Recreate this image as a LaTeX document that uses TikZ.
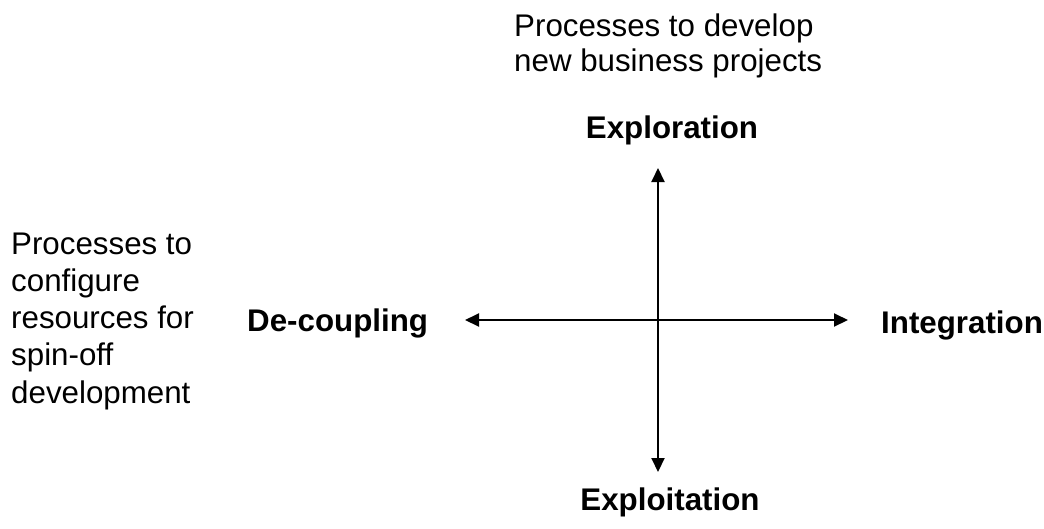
\documentclass[tikz,border=0pt]{standalone}
\usepackage{fontspec}
\setmainfont{Liberation Sans}
\usetikzlibrary{arrows.meta}
\begin{document}
\begin{tikzpicture}[x=1pt,y=-1pt,
  txt/.style={inner sep=0pt,anchor=base west,font=\fontsize{31.3}{34}\selectfont},
  lbl/.style={inner sep=0pt,anchor=base,font=\fontsize{31.3}{34}\selectfont\bfseries},
  axis/.style={line width=2pt,{Triangle[length=14pt,width=13pt]}-{Triangle[length=14pt,width=13pt]}}]
\useasboundingbox (0,0) rectangle (1044,528);
% axis end points
\coordinate (top) at (658,168);
\coordinate (bot) at (658,472);
\coordinate (lft) at (465,320);
\coordinate (rgt) at (848,320);
\draw[axis] (bot) -- (top);
\draw[axis] (lft) -- (rgt);
% top description
\node[txt] (t1) at (514,36.5) {Processes to develop};
\node[txt] (t2) at (514,71) {new business projects};
% left description
\node[txt] (l1) at (11,254) {Processes to};
\node[txt] (l2) at (11,291) {configure};
\node[txt] (l3) at (11,328) {resources for};
\node[txt] (l4) at (11,365.5) {spin-off};
\node[txt] (l5) at (11,403) {development};
% pole labels
\node[lbl] (explo) at (672,138) {Exploration};
\node[lbl] (exploit) at (670,510) {Exploitation};
\node[lbl, anchor=base west] (decoup) at (247,331) {De-coupling};
\node[lbl, anchor=base west] (integ) at (881,333) {Integration};
\end{tikzpicture}
\end{document}
